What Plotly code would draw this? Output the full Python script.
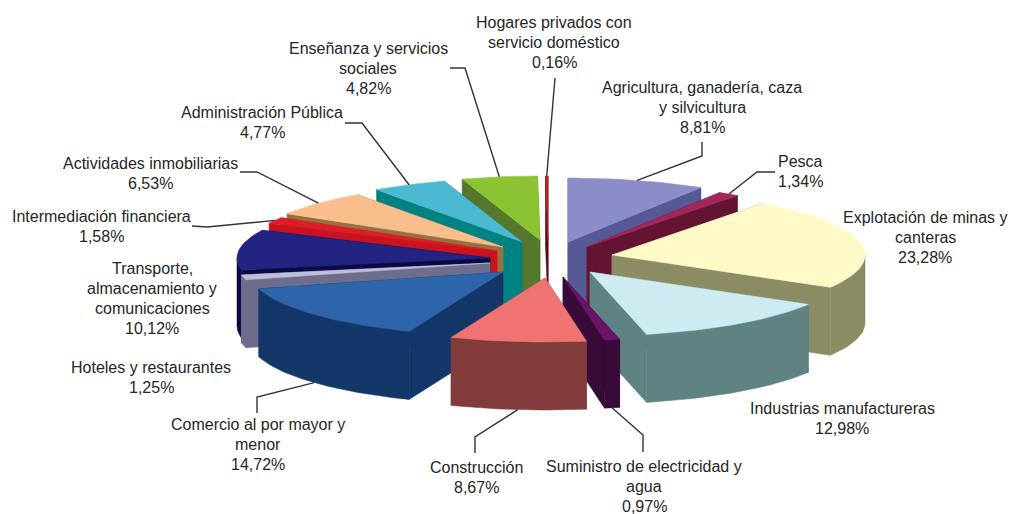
import math
import plotly.graph_objects as go

# Share of each branch of activity, clockwise from twelve o'clock
sectors = [
    "Agricultura", "Pesca", "Explotación", "Industrias", "Suministro",
    "Construcción", "Comercio", "Hoteles", "Transporte", "Intermediación",
    "Actividades", "Administración", "Enseñanza", "Hogares",
]
shares = [8.81, 1.34, 23.28, 12.98, 0.97, 8.67, 14.72, 1.25, 10.12, 1.58, 6.53, 4.77, 4.82, 0.16]

label_lines = [
    ["Agricultura, ganadería, caza", "y silvicultura", "8,81%"],
    ["Pesca", "1,34%"],
    ["Explotación de minas y", "canteras", "23,28%"],
    ["Industrias manufactureras", "12,98%"],
    ["Suministro de electricidad y", "agua", "0,97%"],
    ["Construcción", "8,67%"],
    ["Comercio al por mayor y", "menor", "14,72%"],
    ["Hoteles y restaurantes", "1,25%"],
    ["Transporte,", "almacenamiento y", "comunicaciones", "10,12%"],
    ["Intermediación financiera", "1,58%"],
    ["Actividades inmobiliarias", "6,53%"],
    ["Administración Pública", "4,77%"],
    ["Enseñanza y servicios", "sociales", "4,82%"],
    ["Hogares privados con", "servicio doméstico", "0,16%"],
]

# Label placement: centre x and y of the first line
label_pos = [
    (702, 87), (800, 161), (925, 217), (842, 408), (644, 466), (476, 467), (258, 424),
    (151, 367), (152, 268), (101, 216), (150, 163), (262, 112), (368, 48), (554, 22),
]
LINE_STEP = 20

# Exploded position of each wedge's tip
tips = [
    (568, 242), (587, 247), (612, 255), (590, 272), (563, 277), (545, 278), (503, 272),
    (490, 263), (490, 258), (497, 251), (503, 247), (522, 242), (540, 240), (548, 240),
]
top_colors = [
    "#8c8cc8", "#a0285a", "#fffac8", "#cdebf0", "#691469", "#f07373", "#2d64aa",
    "#bebedc", "#232382", "#dc1e28", "#fabe8c", "#4bb9d2", "#8cc332", "#be1e1e",
]
wall_colors = [
    "#555a96", "#641432", "#8c8c64", "#5f8282", "#370a37", "#823c3c", "#143769",
    "#6e6e8c", "#0a0a46", "#c8141e", "#96703f", "#008282", "#55782d", "#5a0a14",
]
# Drawing order, farthest wedge first
paint_order = [13, 12, 11, 10, 9, 8, 7, 0, 1, 2, 3, 4, 6, 5]

# Bends of the leader lines, from the label towards the wedge; wedges without one are omitted
leader_bends = {
    0: [(702, 142), (702, 156)],
    1: [(775, 172), (757, 172)],
    4: [(643, 452), (643, 435)],
    5: [(475, 453), (475, 437)],
    6: [(257, 413), (257, 397)],
    9: [(192, 226), (207, 227)],
    10: [(240, 172), (257, 172)],
    11: [(345, 123), (362, 123)],
    12: [(450, 68), (465, 68)],
    13: [(555, 78)],
}

RX, RY, DEPTH = 253, 64, 68
ARC_STEP = 1.5

fig = go.Figure()


def rim(tip, angle):
    rad = math.radians(angle)
    return tip[0] + RX * math.sin(rad), tip[1] - RY * math.cos(rad)


def arc_points(tip, start, end):
    steps = max(2, int((end - start) / ARC_STEP) + 1)
    return [rim(tip, start + (end - start) * k / steps) for k in range(steps + 1)]


def add_polygon(points, color):
    fig.add_trace(go.Scatter(
        x=[p[0] for p in points] + [points[0][0]],
        y=[p[1] for p in points] + [points[0][1]],
        mode="lines", fill="toself", fillcolor=color,
        line=dict(color=color, width=0.5), hoverinfo="skip", showlegend=False,
    ))


edges = [0.0]
for share in shares:
    edges.append(edges[-1] + share * 3.6)
wedge_angles = list(zip(edges[:-1], edges[1:]))

for i in paint_order:
    tip = tips[i]
    start, end = wedge_angles[i]
    arc = arc_points(tip, start, end)
    tip_low = (tip[0], tip[1] + DEPTH)
    # Side faces share one colour, so their overlap order does not show
    for corner in (arc[0], arc[-1]):
        add_polygon([tip, corner, (corner[0], corner[1] + DEPTH), tip_low], wall_colors[i])
    # Only the near half of the rim shows a curved wall
    near_start, near_end = max(start, 90.0), min(end, 270.0)
    if near_end > near_start:
        near = arc_points(tip, near_start, near_end)
        add_polygon(near + [(x, y + DEPTH) for x, y in near[::-1]], wall_colors[i])
    add_polygon([tip] + arc, top_colors[i])

# Leader lines end on the rim at each wedge's middle angle
for i, bends in leader_bends.items():
    start, end = wedge_angles[i]
    mid = (start + end) / 2
    ax, ay = rim(tips[i], mid)
    if math.cos(math.radians(mid)) < 0:
        ay += DEPTH
    xs = [b[0] for b in bends] + [ax]
    ys = [b[1] for b in bends] + [ay]
    fig.add_trace(go.Scatter(
        x=xs, y=ys, mode="lines", line=dict(color="#333333", width=1.4),
        hoverinfo="skip", showlegend=False,
    ))

for lines, (cx, cy) in zip(label_lines, label_pos):
    for n, line in enumerate(lines):
        fig.add_annotation(
            x=cx, y=cy + n * LINE_STEP, text=line, showarrow=False,
            xanchor="center", yanchor="middle",
            font=dict(family="Liberation Sans", size=16, color="#262626"),
        )

fig.update_layout(
    width=1011, height=514, margin=dict(l=0, r=0, t=0, b=0),
    paper_bgcolor="white", plot_bgcolor="white",
    xaxis=dict(range=[0, 1011], visible=False, fixedrange=True),
    yaxis=dict(range=[514, 0], visible=False, fixedrange=True),
)
fig.write_html("out.html", config=dict(displayModeBar=False))
